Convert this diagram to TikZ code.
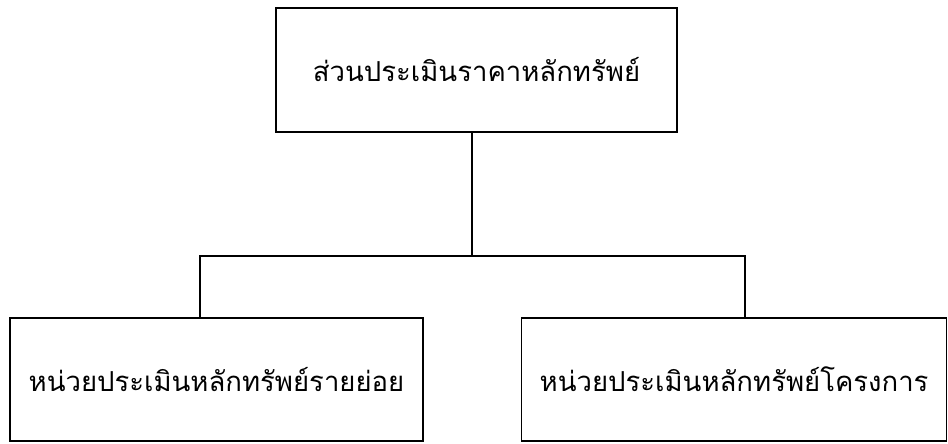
\documentclass[tikz,border=0pt]{standalone}
\usepackage{fontspec}
\newfontfamily\thaifont[Script=Thai]{Loma}
\usetikzlibrary{positioning}

\begin{document}
\begin{tikzpicture}[x=1pt,y=-1pt,
  unit/.style={rectangle,draw,line width=1.6pt,align=center,font=\thaifont\fontsize{27.5}{32}\selectfont,minimum height=123pt,inner sep=0pt},
  link/.style={draw,line width=1.6pt}]
  \useasboundingbox (0,0) rectangle (948,444);

  \node[unit,minimum width=401pt,minimum height=124pt] (office) at (476.5,70) {ส่วนประเมินราคาหลักทรัพย์};
  \node[unit,minimum width=413pt] (retail) at (216.5,379.5) {หน่วยประเมินหลักทรัพย์รายย่อย};
  \node[unit,minimum width=425pt,right=97pt of retail] (project) {หน่วยประเมินหลักทรัพย์โครงการ};

  \coordinate (fork) at (472,256);
  \coordinate (lfoot) at (200,318);
  \coordinate (rfoot) at (745,318);

  \draw[link] (office.south -| fork) -- (fork);
  \draw[link] (fork) -| (lfoot);
  \draw[link] (fork) -| (rfoot);
\end{tikzpicture}
\end{document}
